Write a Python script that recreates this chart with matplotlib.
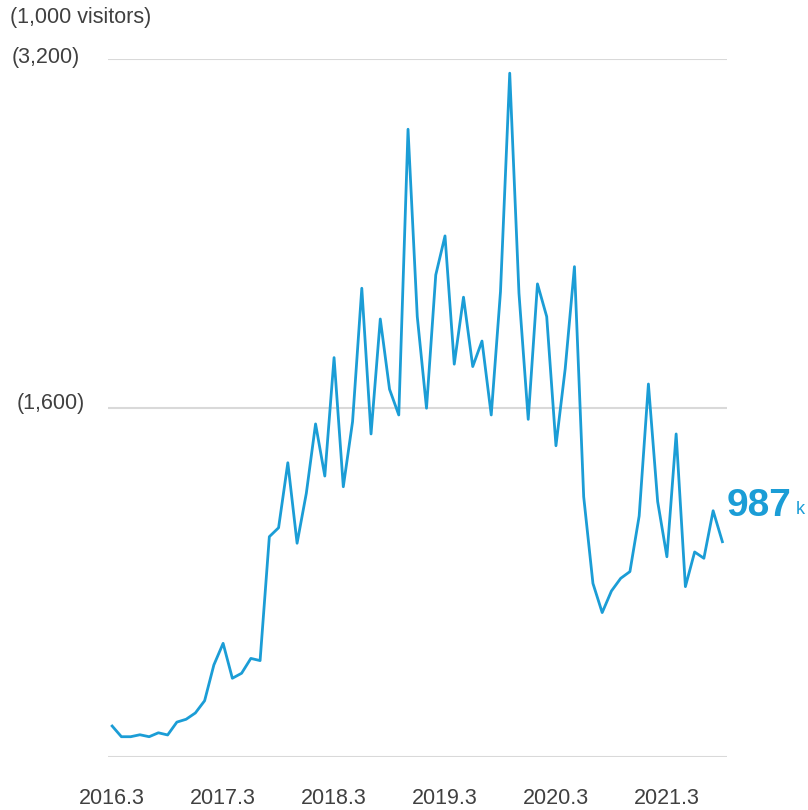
import matplotlib.pyplot as plt
import numpy as np

plt.rcParams["font.family"] = ["Liberation Sans", "DejaVu Sans"]

# monthly visitors (1,000), 2016.3 .. 2021.9
visitors = [
    142, 93, 93, 102, 93, 111, 101, 160, 173, 202, 258, 422,
    521, 361, 384, 452, 442, 1010, 1051, 1349, 980, 1209, 1527, 1288,
    1831, 1239, 1537, 2149, 1481, 2008, 1686, 1568, 2878, 2019, 1599, 2210,
    2389, 1801, 2108, 1790, 1907, 1568, 2133, 3135, 2126, 1548, 2169, 2019,
    1427, 1780, 2248, 1193, 796, 662, 761, 819, 850, 1105, 1710, 1171,
    918, 1481, 781, 940, 911, 1129, 987,
]
tick_pos = [0, 12, 24, 36, 48, 60]
tick_labels = ["2016.3", "2017.3", "2018.3", "2019.3", "2020.3", "2021.3"]
y_ticks = [0, 1600, 3200]
y_labels = ["(1,600)", "(3,200)"]

blue = "#1b9dd6"
grey = "#404040"

fig = plt.figure(figsize=(8.08, 8.10), dpi=100)
ax = fig.add_axes([108 / 808, 1 - 757 / 810, (727 - 108) / 808, (757 - 59) / 810])

x = np.arange(len(visitors))
ax.plot(x, visitors, color=blue, lw=2.0, clip_on=False, zorder=3)

ax.set_xlim(-0.45, 66.5)
ax.set_ylim(0, 3200)
ax.set_yticks(y_ticks)
ax.set_yticklabels([])
ax.set_xticks(tick_pos)
ax.set_xticklabels(tick_labels)
ax.grid(axis="y", color="#d9d9d9", lw=1.5)
ax.tick_params(axis="y", length=0)
ax.tick_params(axis="x", length=0, pad=22, labelsize=15.5, labelcolor=grey)
for s in ax.spines.values():
    s.set_visible(False)

# y labels sit a little above their grid lines
fig.text(46 / 808, 1 - 57 / 810, y_labels[1], fontsize=15.5, color=grey,
         ha="center", va="center")
fig.text(51 / 808, 1 - 403 / 810, y_labels[0], fontsize=15.5, color=grey,
         ha="center", va="center")

fig.text(10 / 808, 1 - 18 / 810, "(1,000 visitors)", fontsize=15.5, color=grey,
         ha="left", va="center")

ax.annotate(f"{visitors[-1]:,}", (x[-1], visitors[-1]), xytext=(3, 26),
            textcoords="offset points", fontsize=28, fontweight="bold",
            color=blue, ha="left", va="center", annotation_clip=False)
fig.text(796 / 808, 1 - 510 / 810, "k", fontsize=13, color=blue,
         ha="left", va="center")

fig.savefig("out.png", dpi=100, facecolor="white")
